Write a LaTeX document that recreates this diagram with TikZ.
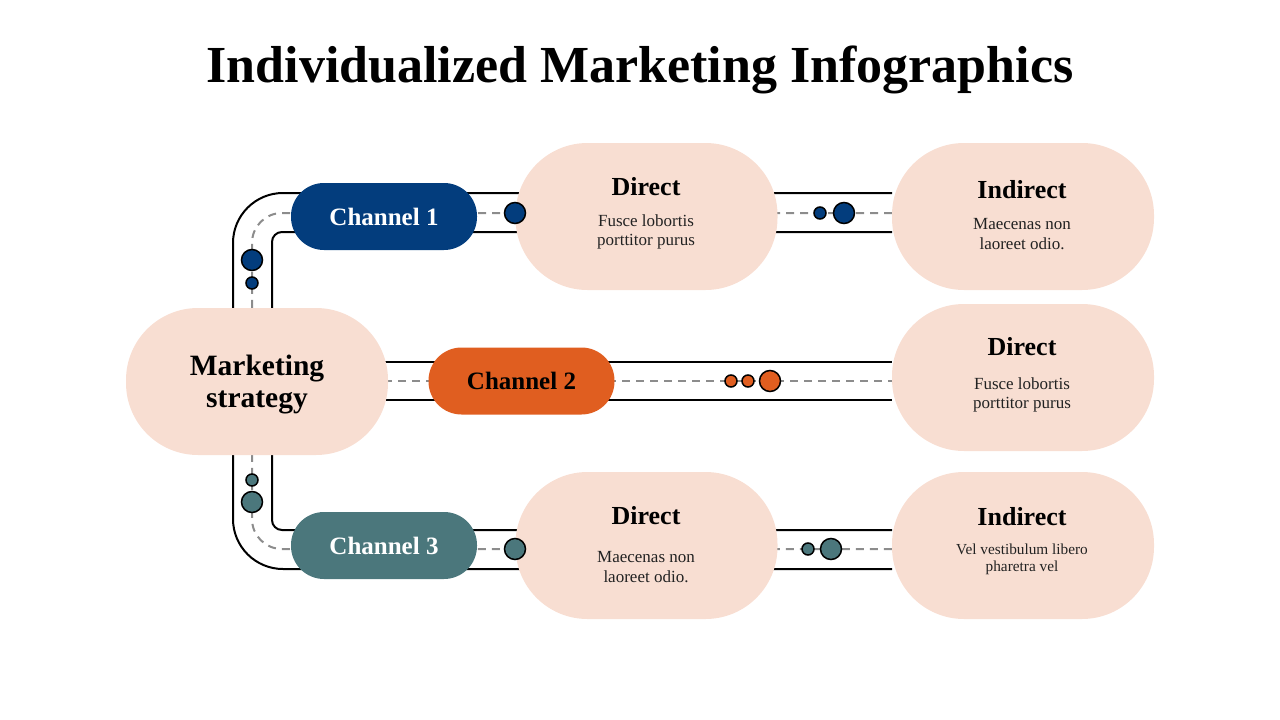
\documentclass[tikz,border=0pt]{standalone}
\usepackage{fontspec}
\setmainfont{Liberation Serif}
\definecolor{pinkbg}{RGB}{248,222,210}
\definecolor{navy}{RGB}{3,61,125}
\definecolor{orng}{RGB}{224,94,32}
\definecolor{teal}{RGB}{75,119,124}
\definecolor{roadgray}{RGB}{140,140,140}
\definecolor{bodytxt}{RGB}{34,34,34}
\begin{document}
\begin{tikzpicture}[x=1pt,y=-1pt,
  road/.style={line width=2pt, black},
  lane/.style={line width=2pt, roadgray, dash pattern=on 8pt off 6pt},
  pill/.style={fill=pinkbg, rounded corners=72pt, minimum width=262pt, minimum height=147pt, inner sep=0pt},
  chan/.style={rounded corners=33pt, minimum width=186pt, minimum height=67pt, inner sep=0pt, font=\bfseries\fontsize{25}{30}\selectfont},
  dotS/.style={circle, draw=black, line width=1.5pt, minimum size=12pt, inner sep=0pt},
  dotL/.style={circle, draw=black, line width=1.5pt, minimum size=21pt, inner sep=0pt},
  head/.style={font=\bfseries\fontsize{26}{30}\selectfont, text=black},
  body/.style={font=\fontsize{17}{19.5}\selectfont, text=bodytxt, align=center},
  bodysm/.style={font=\fontsize{15.3}{16.5}\selectfont, text=bodytxt, align=center}]
\useasboundingbox (0,0) rectangle (1280,720);

% title
\node[font=\bfseries\fontsize{52}{60}\selectfont] (title) at (640,70) {Individualized Marketing Infographics};

% road coordinates
\coordinate (oTR) at (892,193);
\coordinate (oTL) at (233,193);
\coordinate (oBL) at (233,569);
\coordinate (oBR) at (892,569);
\coordinate (iTR) at (892,232);
\coordinate (iTL) at (272,232);
\coordinate (iTD) at (272,320);
\coordinate (iBU) at (272,440);
\coordinate (iBL) at (272,530);
\coordinate (iBR) at (892,530);
\coordinate (mT1) at (350,362);
\coordinate (mT2) at (892,362);
\coordinate (mB1) at (350,400);
\coordinate (mB2) at (892,400);
\coordinate (lTR) at (892,213);
\coordinate (lTL) at (252,213);
\coordinate (lBL) at (252,549);
\coordinate (lBR) at (892,549);
\coordinate (lM1) at (370,381);
\coordinate (lM2) at (892,381);

\draw[road, rounded corners=50pt] (oTR) -- (oTL) -- (oBL) -- (oBR);
\draw[road, rounded corners=10pt] (iTR) -- (iTL) -- (iTD);
\draw[road, rounded corners=10pt] (iBU) -- (iBL) -- (iBR);
\draw[road] (mT1) -- (mT2);
\draw[road] (mB1) -- (mB2);
\draw[lane, rounded corners=30pt] (lTR) -- (lTL) -- (lBL) -- (lBR);
\draw[lane] (lM1) -- (lM2);

% pills
\node[pill] (ms) at (257,381.5) {};
\node[pill] (d1) at (646.5,216.5) {};
\node[pill] (i1) at (1023,216.5) {};
\node[pill] (d2) at (1023,377.5) {};
\node[pill] (d3) at (646.5,545.5) {};
\node[pill] (i3) at (1023,545.5) {};

% channels
\node[chan, fill=navy, text=white] (c1) at (384,216.5) {Channel 1};
\node[chan, fill=orng, text=black] (c2) at (521.5,381) {Channel 2};
\node[chan, fill=teal, text=white] (c3) at (384,545.5) {Channel 3};

% dots
\node[dotL, fill=navy] (a1) at (515,213) {};
\node[dotL, fill=navy] (a2) at (252,260) {};
\node[dotS, fill=navy] (a3) at (252,283) {};
\node[dotS, fill=navy] (a4) at (820,213) {};
\node[dotL, fill=navy] (a5) at (844,213) {};
\node[dotS, fill=orng] (b1) at (731,381) {};
\node[dotS, fill=orng] (b2) at (748,381) {};
\node[dotL, fill=orng] (b3) at (770,381) {};
\node[dotS, fill=teal] (t1) at (252,480) {};
\node[dotL, fill=teal] (t2) at (252,502) {};
\node[dotL, fill=teal] (t3) at (515,549) {};
\node[dotS, fill=teal] (t4) at (808,549) {};
\node[dotL, fill=teal] (t5) at (831,549) {};

% texts
\node[font=\bfseries\fontsize{29.5}{32}\selectfont, align=center] (mst) at (257,385) {Marketing\\strategy};

\node[head] (h1) at (646,187) {Direct};
\node[body] (b1t) at (646,232) {Fusce lobortis\\porttitor purus};
\node[head] (h2) at (1022,190) {Indirect};
\node[body] (b2t) at (1022,234) {Maecenas non\\laoreet odio.};
\node[head] (h3) at (1022,347) {Direct};
\node[body] (b3t) at (1022,395) {Fusce lobortis\\porttitor purus};
\node[head] (h4) at (646,516) {Direct};
\node[body] (b4t) at (646,567) {Maecenas non\\laoreet odio.};
\node[head] (h5) at (1022,517) {Indirect};
\node[bodysm] (b5t) at (1022,559.5) {Vel vestibulum libero\\pharetra vel};
\end{tikzpicture}
\end{document}
